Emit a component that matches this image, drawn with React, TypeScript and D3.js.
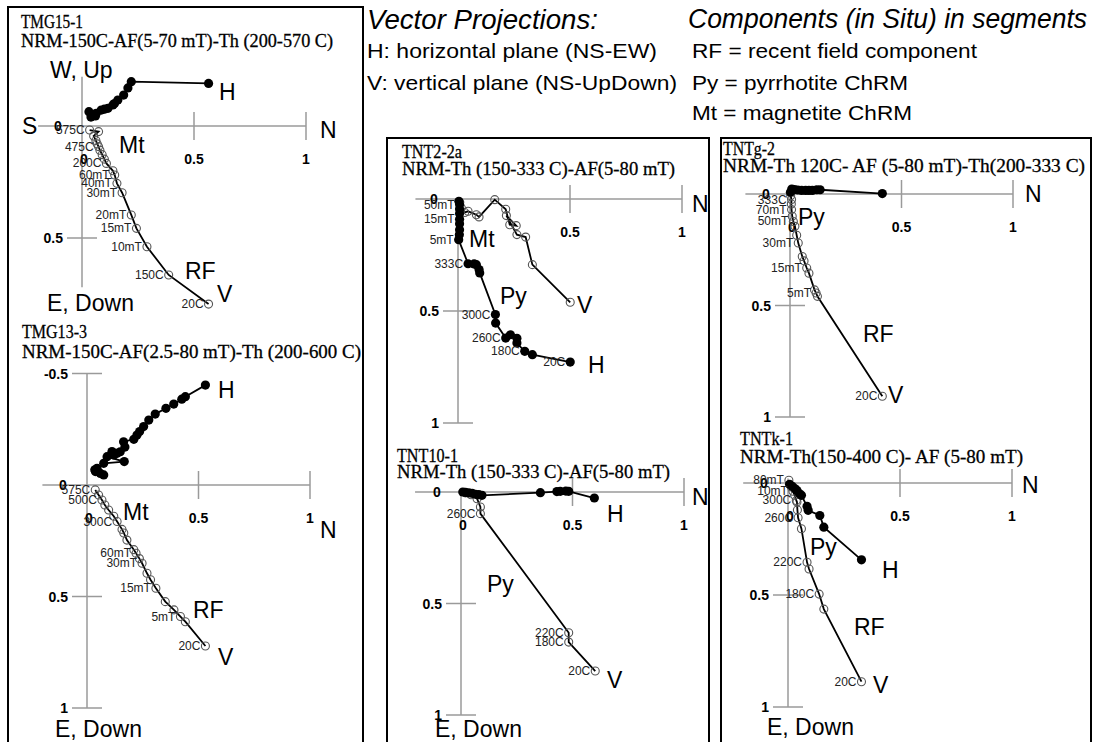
import React from "react";
import * as d3 from "d3";

type Pt = [number, number, string?];

// x = N component, y = E / Down (positive down on screen), unit = normalised intensity

// TMG15-1
const tmg151H: Pt[] = [
  [0.565, -0.19], [0.22, -0.198], [0.205, -0.17], [0.186, -0.138], [0.16, -0.116], [0.145, -0.1],
  [0.138, -0.094], [0.116, -0.079], [0.1, -0.075], [0.086, -0.071], [0.064, -0.057], [0.05, -0.052],
  [0.042, -0.049], [0.031, -0.064], [0.04, -0.04], [0.06, -0.045],
];
const tmg151V: Pt[] = [
  [0.565, 0.795, "20C"], [0.387, 0.665, "150C"], [0.29, 0.539, "10mT"], [0.243, 0.457, "15mT"],
  [0.22, 0.397, "20mT"], [0.179, 0.298, "30mT"], [0.156, 0.256, "40mT"], [0.146, 0.219, "60mT"],
  [0.138, 0.2], [0.109, 0.167, "200C"], [0.1, 0.148], [0.09, 0.128], [0.08, 0.108], [0.074, 0.092, "475C"],
  [0.068, 0.08], [0.062, 0.065], [0.052, 0.045], [0.074, 0.025], [0.034, 0.018, "575C"],
];

// TMG13-3
const tmg133H: Pt[] = [
  [0.531, -0.448], [0.441, -0.396], [0.425, -0.385], [0.389, -0.363], [0.354, -0.344], [0.306, -0.318],
  [0.277, -0.291], [0.254, -0.262], [0.236, -0.24], [0.224, -0.224], [0.21, -0.205], [0.164, -0.194],
  [0.17, -0.17], [0.149, -0.149], [0.135, -0.142], [0.12, -0.135], [0.112, -0.15], [0.09, -0.127],
  [0.167, -0.105], [0.075, -0.097], [0.045, -0.075], [0.038, -0.06], [0.06, -0.052], [0.075, -0.045],
  [0.035, -0.068],
];
const tmg133V: Pt[] = [
  [0.531, 0.722, "20C"], [0.441, 0.613], [0.419, 0.59, "5mT"], [0.39, 0.56], [0.351, 0.523],
  [0.309, 0.463, "15mT"], [0.285, 0.425], [0.269, 0.396], [0.247, 0.351, "30mT"], [0.235, 0.33],
  [0.22, 0.306, "60mT"], [0.21, 0.29], [0.179, 0.247], [0.165, 0.215], [0.157, 0.199],
  [0.135, 0.164, "300C"], [0.12, 0.14], [0.097, 0.112], [0.08, 0.09], [0.067, 0.067, "500C"],
  [0.052, 0.045], [0.037, 0.022, "575C"],
];

// TNT2-2a
const tnt22aH: Pt[] = [
  [0.501, 0.728, "20C"], [0.332, 0.695], [0.298, 0.68, "180C"], [0.263, 0.643], [0.263, 0.622],
  [0.234, 0.606], [0.213, 0.621, "260C"], [0.168, 0.554], [0.167, 0.516, "300C"], [0.097, 0.33],
  [0.094, 0.315], [0.082, 0.293], [0.072, 0.29], [0.045, 0.289, "333C"], [0.003, 0.182, "5mT"],
  [0.006, 0.16], [0.007, 0.137], [0.007, 0.11], [0.007, 0.09, "15mT"], [0.007, 0.065], [0.007, 0.045],
  [0.007, 0.025, "50mT"], [0.004, 0.01],
];
const tnt22aV: Pt[] = [
  [0.501, 0.461], [0.332, 0.293], [0.302, 0.17], [0.263, 0.159], [0.216, 0.074], [0.26, 0.119],
  [0.231, 0.115], [0.213, 0.046], [0.164, 0.003], [0.094, 0.08], [0.082, 0.07], [0.045, 0.055],
  [0.03, 0.06], [0.015, 0.04], [0.008, 0.015],
];

// TNT10-1
const tnt101H: Pt[] = [
  [0.598, 0.027], [0.483, -0.003], [0.47, -0.004], [0.445, -0.003], [0.43, -0.002], [0.356, 0.003],
  [0.094, 0.015], [0.08, 0.012], [0.065, 0.01], [0.05, 0.006], [0.035, 0.004], [0.02, 0.002], [0.008, 0],
];
const tnt101V: Pt[] = [
  [0.602, 0.803, "20C"], [0.483, 0.673, "180C"], [0.483, 0.631, "220C"], [0.087, 0.097, "260C"],
  [0.087, 0.067], [0.072, 0.03], [0.045, 0.012], [0.02, 0.004],
];

// TNTg-2
const tntg2H: Pt[] = [
  [0.414, -0.002], [0.135, -0.019], [0.12, -0.019], [0.1, -0.016], [0.085, -0.016], [0.07, -0.016],
  [0.052, -0.016], [0.035, -0.018], [0.02, -0.02], [0.008, -0.022], [0.002, -0.008],
];
const tntg2V: Pt[] = [
  [0.414, 0.907, "20C"], [0.123, 0.459], [0.117, 0.444, "5mT"], [0.11, 0.43], [0.085, 0.355],
  [0.075, 0.332, "15mT"], [0.063, 0.3], [0.055, 0.28], [0.037, 0.22, "30mT"], [0.03, 0.185],
  [0.022, 0.145], [0.015, 0.123, "50mT"], [0.01, 0.1], [0.007, 0.07, "70mT"], [0.006, 0.045],
  [0.007, 0.025, "333C"], [0.003, 0.008],
];

// TNTk-1
const tntk1H: Pt[] = [
  [0.328, 0.343], [0.16, 0.197], [0.142, 0.145], [0.09, 0.122], [0.085, 0.104], [0.06, 0.055],
  [0.052, 0.048], [0.04, 0.033], [0.03, 0.025], [0.019, 0.015], [0.007, 0.006],
];
const tntk1V: Pt[] = [
  [0.328, 0.887, "20C"], [0.16, 0.563], [0.139, 0.496, "180C"], [0.094, 0.384], [0.085, 0.354, "220C"],
  [0.06, 0.204], [0.045, 0.155, "260C"], [0.042, 0.12], [0.04, 0.085], [0.037, 0.078, "300C"],
  [0.03, 0.055], [0.022, 0.037, "10mT"], [0.015, 0.018], [0.004, -0.012, "80mT"],
];

const SANS = "'Liberation Sans', Arial, sans-serif";
const SERIF = "'Liberation Serif', 'Times New Roman', serif";
const AXIS = "#9a9a9a";

const panels = [
  {
    name: "TMG15-1", sub: "NRM-150C-AF(5-70 mT)-Th  (200-570 C)", H: tmg151H, V: tmg151V,
    ox: 82, oy: 126, unit: 224, xMin: -0.196, yTop: -0.22, yBot: 0.72, yTicks: [0.5], zeroBelow: true,
    title: [21, 28, 62], subt: [21, 47, 312],
    labels: [["W, Up", 50, 78], ["S", 22, 134], ["N", 320, 138], ["H", 219, 100], ["Mt", 119, 153],
      ["RF", 185, 279], ["V", 217, 302], ["E, Down", 47, 311]],
  },
  {
    name: "TMG13-3", sub: "NRM-150C-AF(2.5-80 mT)-Th  (200-600 C)", H: tmg133H, V: tmg133V,
    ox: 87, oy: 485, unit: 223, xMin: -0.2, yTop: -0.5, yBot: 1, yTicks: [-0.5, 0.5, 1], zeroBelow: true,
    title: [22, 338, 65], subt: [22, 358, 339],
    labels: [["H", 218, 398], ["Mt", 123, 520], ["N", 320, 538], ["RF", 193, 618], ["V", 218, 665],
      ["E, Down", 55, 737]],
  },
  {
    name: "TNT2-2a", sub: "NRM-Th  (150-333 C)-AF(5-80 mT)", H: tnt22aH, V: tnt22aV,
    ox: 458, oy: 199, unit: 224, xMin: -0.19, yTop: 0, yBot: 1, yTicks: [0.5, 1], zeroBelow: false,
    title: [402, 158, 60], subt: [402, 175, 273],
    labels: [["N", 692, 212], ["Mt", 469, 247], ["Py", 500, 304], ["V", 577, 313], ["H", 588, 373]],
  },
  {
    name: "TNT10-1", sub: "NRM-Th  (150-333 C)-AF(5-80 mT)", H: tnt101H, V: tnt101V,
    ox: 461, oy: 492, unit: 223, xMin: -0.206, yTop: 0, yBot: 1, yTicks: [0.5, 1], zeroBelow: true,
    title: [397, 462, 61], subt: [397, 478, 273],
    labels: [["N", 692, 505], ["H", 607, 522], ["Py", 487, 592], ["V", 607, 688], ["E, Down", 435, 737]],
  },
  {
    name: "TNTg-2", sub: "NRM-Th  120C-  AF  (5-80 mT)-Th(200-333 C)", H: tntg2H, V: tntg2V,
    ox: 790, oy: 194, unit: 223, xMin: -0.2, yTop: -0.02, yBot: 1, yTicks: [0.5, 1], zeroBelow: true,
    title: [723, 155, 52], subt: [723, 172, 362],
    labels: [["N", 1025, 202], ["Py", 798, 225], ["RF", 863, 342], ["V", 888, 403]],
  },
  {
    name: "TNTk-1", sub: "NRM-Th(150-400 C)-  AF  (5-80 mT)", H: tntk1H, V: tntk1V,
    ox: 788, oy: 483, unit: 224, xMin: -0.2, yTop: -0.02, yBot: 1, yTicks: [0.5, 1], zeroBelow: true,
    title: [740, 445, 53], subt: [740, 463, 283],
    labels: [["N", 1022, 493], ["Py", 810, 555], ["H", 882, 578], ["RF", 854, 635], ["V", 873, 693],
      ["E, Down", 767, 735]],
  },
];

function Panel({ p }: { p: any }) {
  const x = d3.scaleLinear().domain([0, 1]).range([p.ox, p.ox + p.unit]);
  const y = d3.scaleLinear().domain([0, 1]).range([p.oy, p.oy + p.unit]);
  const line = d3.line<Pt>().x(d => x(d[0])).y(d => y(d[1]));
  const pts: Pt[] = [...p.H, ...p.V].filter((d: Pt) => d[2]);
  return (
    <g>
      <g fontFamily={SERIF} fontSize={19} stroke="#000" strokeWidth={0.3}>
        <text x={p.title[0]} y={p.title[1]} textLength={p.title[2]} lengthAdjust="spacingAndGlyphs">{p.name}</text>
        <text x={p.subt[0]} y={p.subt[1]} textLength={p.subt[2]} lengthAdjust="spacingAndGlyphs">{p.sub}</text>
      </g>

      {/* axes */}
      <g stroke={AXIS} strokeWidth={1.5}>
        <line x1={x(p.xMin)} x2={x(1)} y1={y(0)} y2={y(0)} />
        <line x1={x(0)} x2={x(0)} y1={y(p.yTop)} y2={y(p.yBot)} />
        {[0.5, 1].map(t => <line key={"xt" + t} x1={x(t)} x2={x(t)} y1={y(0) - 14} y2={y(0) + 14} />)}
        {p.yTicks.map((t: number) => <line key={"yt" + t} x1={x(0) - 15} x2={x(0) + 15} y1={y(t)} y2={y(t)} />)}
      </g>
      <g fontFamily={SANS} fontSize={14} fontWeight="bold">
        {[0.5, 1].map(t => <text key={"xl" + t} x={x(t)} y={y(0) + 38} textAnchor="middle">{t}</text>)}
        {p.yTicks.map((t: number) => <text key={"yl" + t} x={x(0) - 19} y={y(t) + 5} textAnchor="end">{t}</text>)}
        <text x={x(0) - 24} y={y(0) + 5} textAnchor="middle">0</text>
        {p.zeroBelow && <text x={x(0) + 2} y={y(0) + 38} textAnchor="middle">0</text>}
      </g>

      {/* vertical projection */}
      <path d={line(p.V) || ""} fill="none" stroke="#000" strokeWidth={1.8} />
      {p.V.map((d: Pt, i: number) => (
        <circle key={"v" + i} cx={x(d[0])} cy={y(d[1])} r={4} fill="none" stroke="#555" strokeWidth={1.1} />
      ))}
      {/* horizontal projection */}
      <path d={line(p.H) || ""} fill="none" stroke="#000" strokeWidth={1.8} />
      {p.H.map((d: Pt, i: number) => (
        <circle key={"h" + i} cx={x(d[0])} cy={y(d[1])} r={4.6} fill="#000" />
      ))}

      <g fontFamily={SANS} fontSize={12} fill="#222">
        {pts.map((d, i) => (
          <text key={"pl" + i} x={x(d[0]) - 5} y={y(d[1]) + 4} textAnchor="end">{d[2]}</text>
        ))}
      </g>
      <g fontFamily={SANS} fontSize={23}>
        {p.labels.map((l: any, i: number) => <text key={"bl" + i} x={l[1]} y={l[2]}>{l[0]}</text>)}
      </g>
    </g>
  );
}

export default function App() {
  return (
    <svg width={1095} height={742} style={{ position: "absolute", left: 0, top: 0, background: "#fff" }}>
      <rect width={1095} height={742} fill="#fff" />
      <g fill="none" stroke="#000" strokeWidth={2}>
        <polyline points="8,750 8,7 363,7 363,750" />
        <polyline points="387,750 387,138 709,138 709,750" />
        <polyline points="721,750 721,138 1091,138 1091,750" />
      </g>
      <g fontFamily={SANS}>
        <text x={367} y={29} fontSize={27} fontStyle="italic" textLength={231} lengthAdjust="spacingAndGlyphs">Vector Projections:</text>
        <text x={688} y={28} fontSize={27} fontStyle="italic" textLength={399} lengthAdjust="spacingAndGlyphs">Components (in Situ) in segments</text>
        <text x={367} y={58} fontSize={21} textLength={290} lengthAdjust="spacingAndGlyphs">H: horizontal plane (NS-EW)</text>
        <text x={367} y={90} fontSize={21} textLength={310} lengthAdjust="spacingAndGlyphs">V: vertical plane (NS-UpDown)</text>
        <text x={692} y={58} fontSize={21} textLength={285} lengthAdjust="spacingAndGlyphs">RF = recent field component</text>
        <text x={692} y={90} fontSize={21} textLength={216} lengthAdjust="spacingAndGlyphs">Py = pyrrhotite ChRM</text>
        <text x={692} y={120} fontSize={21} textLength={220} lengthAdjust="spacingAndGlyphs">Mt = magnetite ChRM</text>
      </g>
      {panels.map(p => <Panel key={p.name} p={p} />)}
    </svg>
  );
}
